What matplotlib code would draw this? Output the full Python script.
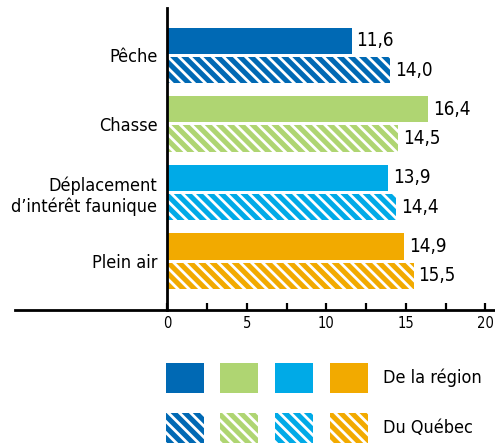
import numpy as np
import matplotlib
matplotlib.use("Agg")
import matplotlib.pyplot as plt
from matplotlib.patches import Rectangle

categories = ["Pêche", "Chasse", "Déplacement\nd\u2019intérêt faunique", "Plein air"]
region = [11.6, 16.4, 13.9, 14.9]
quebec = [14.0, 14.5, 14.4, 15.5]
colors = ["#0069b4", "#afd572", "#00aae7", "#f2aa00"]
legend_labels = ["De la région", "Du Québec"]

plt.rcParams['font.family'] = ['DejaVu Sans']
plt.rcParams['font.stretch'] = 'condensed'
plt.rcParams['hatch.linewidth'] = 2.0

W, H = 495, 447
fig = plt.figure(figsize=(W / 100, H / 100), dpi=100)
ax = fig.add_axes([15 / W, 1 - 310 / H, 480 / W, 302 / H])

y = np.arange(len(categories))
h = 0.38
off = 0.212
hatch = "\\\\\\"
ax.barh(y - off, region, height=h, color=colors, linewidth=0)
ax.barh(y + off, quebec, height=h, color=colors, edgecolor="white",
        hatch=hatch, linewidth=0)

for yi, v in zip(y - off, region):
    ax.text(v + 0.3, yi, f"{v:.1f}".replace(".", ","), va="center", ha="left", fontsize=13.5)
for yi, v in zip(y + off, quebec):
    ax.text(v + 0.3, yi, f"{v:.1f}".replace(".", ","), va="center", ha="left", fontsize=13.5)

ax.set_xlim(-9.56, 20.6)
ax.set_ylim(3.715, -0.693)
ax.spines['left'].set_position(('data', 0))
ax.spines['left'].set_linewidth(2)
ax.spines['bottom'].set_linewidth(2)
ax.spines['top'].set_visible(False)
ax.spines['right'].set_visible(False)

ax.set_yticks(y)
ax.set_yticklabels(categories, fontsize=13, multialignment="right", linespacing=1.2)
ax.tick_params(axis="y", length=0, pad=7)
ax.set_xticks([0, 5, 10, 15, 20])
ax.set_xticks([2.5, 7.5, 12.5, 17.5], minor=True)
ax.tick_params(axis="x", which="both", direction="in", length=5, width=1.6, labelsize=10.5, pad=4)

# legend swatches
xs = [166, 220, 275, 330]
for row, (yt, hp) in enumerate([(363, None), (413, hatch)]):
    for c, x0 in zip(colors, xs):
        r = Rectangle((x0 / W, 1 - (yt + 30) / H), 38 / W, 30 / H, transform=fig.transFigure,
                      facecolor=c, edgecolor="white" if hp else c, hatch=hp, linewidth=0)
        fig.add_artist(r)
    fig.text(383 / W, 1 - (yt + 15) / H, legend_labels[row], va="center", ha="left", fontsize=13)

fig.savefig("out.png", dpi=100)
